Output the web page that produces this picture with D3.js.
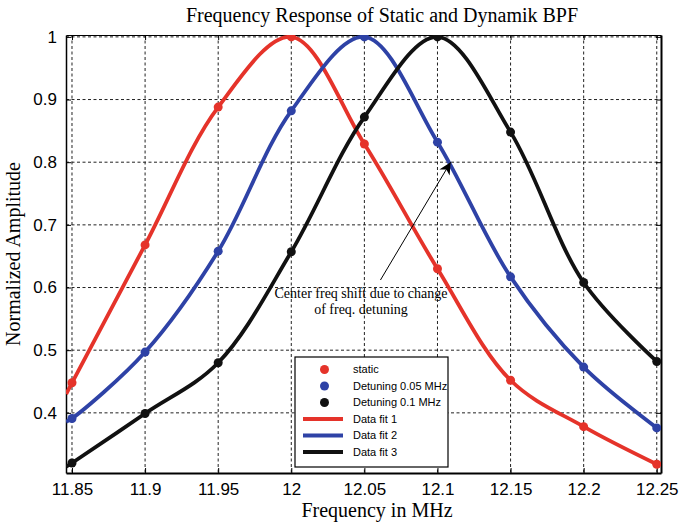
<!DOCTYPE html>
<html>
<head>
<meta charset="utf-8">
<script src="https://cdn.jsdelivr.net/npm/d3@7"></script>
<style>
  html, body { margin: 0; padding: 0; background: #fff; }
  svg { display: block; }
</style>
</head>
<body>
<script>
// ---------------- data ----------------
const freqs = [11.85, 11.9, 11.95, 12.0, 12.05, 12.1, 12.15, 12.2, 12.25];
const staticVals = [0.448, 0.668, 0.888, 1.0, 0.829, 0.630, 0.452, 0.378, 0.318];
const detuning005 = [0.391, 0.497, 0.658, 0.882, 1.0, 0.832, 0.617, 0.473, 0.376];
const detuning01 = [0.320, 0.399, 0.480, 0.657, 0.872, 1.0, 0.848, 0.608, 0.482];
// fitted curves continue to the left border of the axes
const fitEdgeFreq = 11.846;
const fitEdgeVals = [0.430, 0.386, 0.314];
const xTicks = [11.85, 11.9, 11.95, 12.0, 12.05, 12.1, 12.15, 12.2, 12.25];
const xTickLabels = ["11.85", "11.9", "11.95", "12", "12.05", "12.1", "12.15", "12.2", "12.25"];
const yTicks = [0.4, 0.5, 0.6, 0.7, 0.8, 0.9, 1.0];
const yTickLabels = ["0.4", "0.5", "0.6", "0.7", "0.8", "0.9", "1"];
const seriesNames = ["static", "Detuning 0.05 MHz", "Detuning 0.1 MHz"];
const fitNames = ["Data fit 1", "Data fit 2", "Data fit 3"];
const colors = ["#e5332a", "#2e42a6", "#111111"];
const titleText = "Frequency Response of Static and Dynamik BPF";
const xLabelText = "Frequency in MHz";
const yLabelText = "Normalized Amplitude";
const annotationLines = ["Center freq shift due to change", "of freq. detuning"];
const annotationFrom = [12.061, 0.612];
const annotationTo = [12.109, 0.800];

// ---------------- layout ----------------
const W = 684, H = 524;
const plot = { left: 66, right: 661, top: 35, bottom: 473 };

const svg = d3.select("body").append("svg")
  .attr("width", W).attr("height", H)
  .style("background", "#fff");

const x = d3.scaleLinear().domain([11.8459, 12.2529]).range([plot.left, plot.right]);
const y = d3.scaleLinear().domain([0.304, 1.003]).range([plot.bottom, plot.top]);

svg.append("defs").append("clipPath").attr("id", "clip")
  .append("rect")
  .attr("x", plot.left).attr("y", plot.top)
  .attr("width", plot.right - plot.left).attr("height", plot.bottom - plot.top);

// grid
const grid = svg.append("g");
grid.selectAll("line.vx").data(xTicks).join("line")
  .attr("x1", d => x(d)).attr("x2", d => x(d))
  .attr("y1", plot.top).attr("y2", plot.bottom)
  .attr("stroke", "#222").attr("stroke-width", 1).attr("stroke-dasharray", "3,2.5");
grid.selectAll("line.hy").data(yTicks).join("line")
  .attr("y1", d => y(d)).attr("y2", d => y(d))
  .attr("x1", plot.left).attr("x2", plot.right)
  .attr("stroke", "#222").attr("stroke-width", 1).attr("stroke-dasharray", "3,2.5");

// axes
const xAxis = d3.axisBottom(x).tickValues(xTicks).tickFormat((d, i) => xTickLabels[i]).tickSizeInner(-5).tickSizeOuter(0).tickPadding(10);
const xAxisTop = d3.axisTop(x).tickValues(xTicks).tickFormat("").tickSizeInner(-5).tickSizeOuter(0);
const yAxis = d3.axisLeft(y).tickValues(yTicks).tickFormat((d, i) => yTickLabels[i]).tickSizeInner(-5).tickSizeOuter(0).tickPadding(9);
const yAxisRight = d3.axisRight(y).tickValues(yTicks).tickFormat("").tickSizeInner(-5).tickSizeOuter(0);

function styleAxis(g, w) {
  g.select(".domain").attr("stroke", "#000").attr("stroke-width", w);
  g.selectAll(".tick line").attr("stroke", "#000");
  g.selectAll(".tick text").attr("fill", "#000")
    .style("font-family", "'Liberation Sans', Arial, sans-serif")
    .style("font-size", "17px");
}
svg.append("g").attr("transform", `translate(0,${plot.bottom})`).call(xAxis).call(g => styleAxis(g, 2));
svg.append("g").attr("transform", `translate(0,${plot.top})`).call(xAxisTop).call(g => styleAxis(g, 1));
svg.append("g").attr("transform", `translate(${plot.left},0)`).call(yAxis).call(g => styleAxis(g, 1.5));
svg.append("g").attr("transform", `translate(${plot.right},0)`).call(yAxisRight).call(g => styleAxis(g, 2));

// fitted curves
const allSeries = [staticVals, detuning005, detuning01];
const line = d3.line().x(d => x(d[0])).y(d => y(d[1])).curve(d3.curveCatmullRom.alpha(0.5));
const curves = svg.append("g").attr("clip-path", "url(#clip)");
allSeries.forEach((vals, i) => {
  const pts = [[fitEdgeFreq, fitEdgeVals[i]]].concat(freqs.map((f, j) => [f, vals[j]]));
  curves.append("path").datum(pts)
    .attr("d", line)
    .attr("fill", "none")
    .attr("stroke", colors[i])
    .attr("stroke-width", 3.8)
    .attr("stroke-linejoin", "round");
});
// markers
allSeries.forEach((vals, i) => {
  curves.append("g").selectAll("circle").data(freqs.map((f, j) => [f, vals[j]])).join("circle")
    .attr("cx", d => x(d[0])).attr("cy", d => y(d[1]))
    .attr("r", 4.5).attr("fill", colors[i]);
});

// annotation arrow
svg.append("defs").append("marker")
  .attr("id", "arrowhead").attr("viewBox", "0 0 10 10")
  .attr("refX", 10).attr("refY", 5)
  .attr("markerWidth", 12).attr("markerHeight", 12)
  .attr("markerUnits", "userSpaceOnUse")
  .attr("orient", "auto")
  .append("path").attr("d", "M0,0 L10,5 L0,10 L3,5 Z").attr("fill", "#000");
svg.append("line")
  .attr("x1", x(annotationFrom[0])).attr("y1", y(annotationFrom[1]))
  .attr("x2", x(annotationTo[0])).attr("y2", y(annotationTo[1]))
  .attr("stroke", "#000").attr("stroke-width", 1)
  .attr("marker-end", "url(#arrowhead)");
const ann = svg.append("text")
  .attr("text-anchor", "middle")
  .style("font-family", "'Liberation Serif', 'Times New Roman', serif")
  .style("font-size", "14px")
  .attr("fill", "#000");
annotationLines.forEach((t, i) => {
  ann.append("tspan").attr("x", 361).attr("y", 298 + i * 16).text(t);
});

// legend
const lg = svg.append("g");
lg.append("rect").attr("x", 295).attr("y", 357).attr("width", 153).attr("height", 110)
  .attr("fill", "#fff").attr("stroke", "#000").attr("stroke-width", 1.2);
const rowY0 = 369.5, rowH = 16.5;
seriesNames.forEach((n, i) => {
  lg.append("circle").attr("cx", 324.5).attr("cy", rowY0 + i * rowH).attr("r", 4.5).attr("fill", colors[i]);
  lg.append("text").attr("x", 353).attr("y", rowY0 + i * rowH).attr("dy", "0.35em").text(n)
    .style("font-family", "'Liberation Sans', Arial, sans-serif").style("font-size", "11px");
});
fitNames.forEach((n, i) => {
  const yy = rowY0 + (i + 3) * rowH;
  lg.append("line").attr("x1", 303).attr("x2", 343).attr("y1", yy).attr("y2", yy)
    .attr("stroke", colors[i]).attr("stroke-width", 3.8);
  lg.append("text").attr("x", 353).attr("y", yy).attr("dy", "0.35em").text(n)
    .style("font-family", "'Liberation Sans', Arial, sans-serif").style("font-size", "11px");
});

// title & labels
svg.append("text").attr("x", 382).attr("y", 22).attr("text-anchor", "middle")
  .style("font-family", "'Liberation Serif', 'Times New Roman', serif").style("font-size", "20px")
  .text(titleText);
svg.append("text").attr("x", 377).attr("y", 517).attr("text-anchor", "middle")
  .style("font-family", "'Liberation Serif', 'Times New Roman', serif").style("font-size", "20px")
  .text(xLabelText);
svg.append("text").attr("transform", "translate(20,254) rotate(-90)").attr("text-anchor", "middle")
  .style("font-family", "'Liberation Serif', 'Times New Roman', serif").style("font-size", "20px")
  .text(yLabelText);
</script>
</body>
</html>
